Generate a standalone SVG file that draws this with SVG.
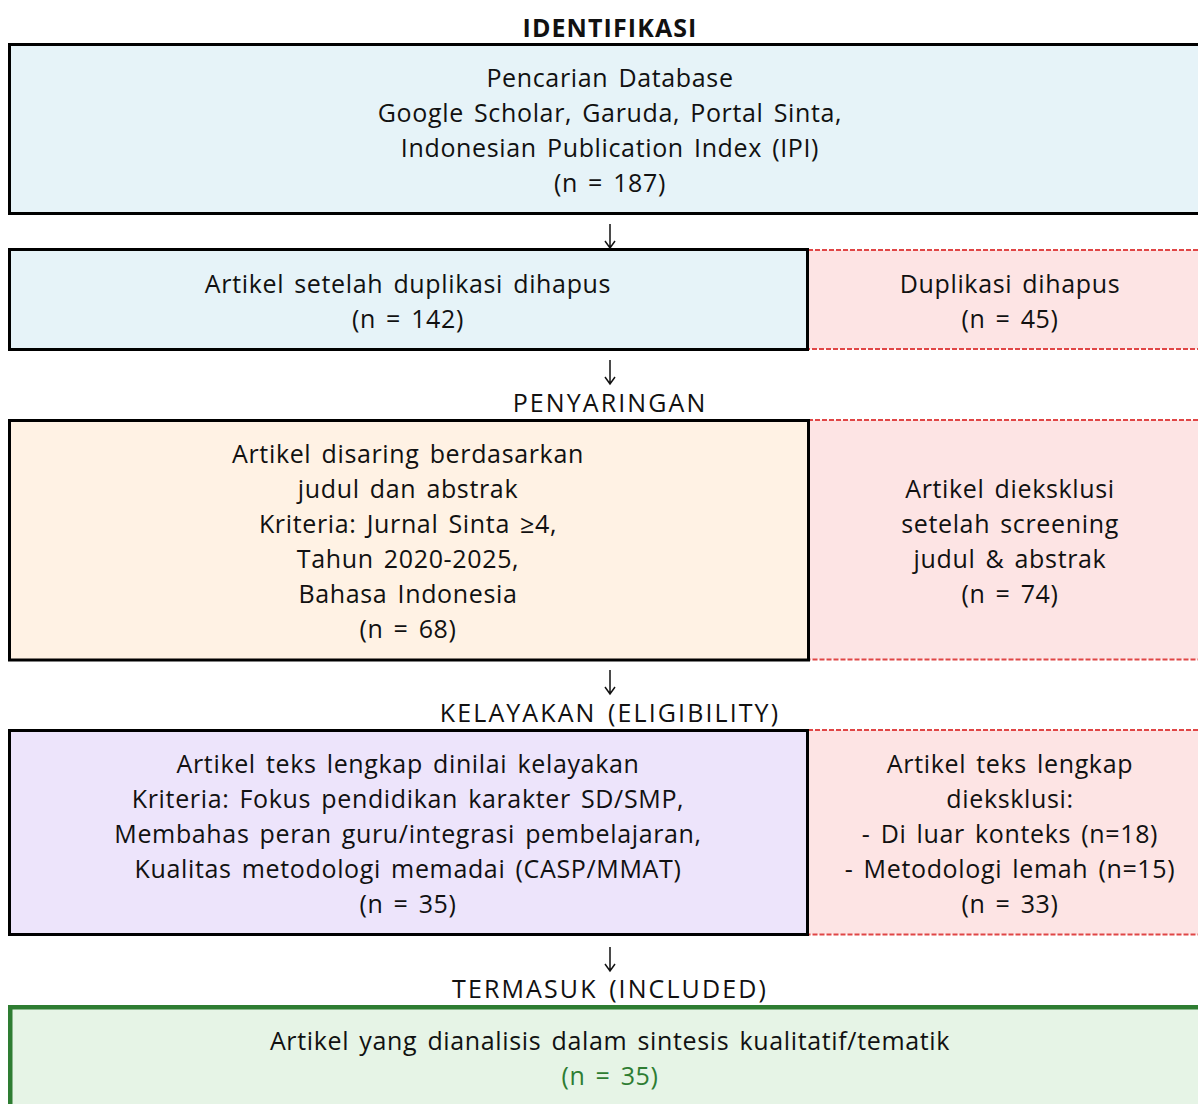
<svg xmlns="http://www.w3.org/2000/svg" width="1198" height="1104" viewBox="0 0 1198 1104">
<defs>
<style>
text{font-family:"Open Sans","Lato",sans-serif;font-size:25px;fill:#111;text-anchor:middle;letter-spacing:0.65px;word-spacing:3px}
.h{font-weight:bold;letter-spacing:1.1px}
.c{letter-spacing:2.1px}
.blue{fill:#e6f3f8;stroke:#000;stroke-width:3}
.orange{fill:#fff2e4;stroke:#000;stroke-width:3}
.purple{fill:#ede4fb;stroke:#000;stroke-width:3}
.pink{fill:#fde4e4;stroke:#e04646;stroke-width:2;stroke-dasharray:5 2}
.green{fill:#e6f4e6;stroke:#2e7d32;stroke-width:4.5}
.arr{fill:none;stroke:#111;stroke-width:1.5}
.gt{fill:#2e7d32}
</style>
</defs>
<rect width="1198" height="1104" fill="#fff"/>
<text class="h" x="610" y="37">IDENTIFIKASI</text>
<g id="search">
<rect class="blue" x="9.5" y="44.5" width="1210" height="169"/>
<text x="610" y="87">Pencarian Database</text>
<text x="610" y="122">Google Scholar, Garuda, Portal Sinta,</text>
<text x="610" y="157">Indonesian Publication Index (IPI)</text>
<text x="610" y="192">(n = 187)</text>
</g>
<g id="dedup-excluded">
<rect class="pink" x="808" y="250" width="410" height="99"/>
<text x="1010" y="293">Duplikasi dihapus</text>
<text x="1010" y="328">(n = 45)</text>
</g>
<g id="dedup">
<rect class="blue" x="9.5" y="249.5" width="798" height="100"/>
<text x="408" y="293">Artikel setelah duplikasi dihapus</text>
<text x="408" y="328">(n = 142)</text>
</g>
<text class="c" x="610" y="412">PENYARINGAN</text>
<g id="screen-excluded">
<rect class="pink" x="808" y="420" width="410" height="239.5"/>
<text x="1010" y="498">Artikel dieksklusi</text>
<text x="1010" y="533">setelah screening</text>
<text x="1010" y="568">judul &amp; abstrak</text>
<text x="1010" y="603">(n = 74)</text>
</g>
<g id="screen">
<rect class="orange" x="9.5" y="420.5" width="799" height="239.5"/>
<text x="408" y="463">Artikel disaring berdasarkan</text>
<text x="408" y="498">judul dan abstrak</text>
<text x="408" y="533">Kriteria: Jurnal Sinta ≥4,</text>
<text x="408" y="568">Tahun 2020-2025,</text>
<text x="408" y="603">Bahasa Indonesia</text>
<text x="408" y="638">(n = 68)</text>
</g>
<text class="c" x="610" y="722">KELAYAKAN (ELIGIBILITY)</text>
<g id="elig-excluded">
<rect class="pink" x="808" y="730" width="410" height="204.5"/>
<text x="1010" y="773">Artikel teks lengkap</text>
<text x="1010" y="808">dieksklusi:</text>
<text x="1010" y="843">- Di luar konteks (n=18)</text>
<text x="1010" y="878">- Metodologi lemah (n=15)</text>
<text x="1010" y="913">(n = 33)</text>
</g>
<g id="elig">
<rect class="purple" x="9.5" y="730.5" width="798" height="204"/>
<text x="408" y="773">Artikel teks lengkap dinilai kelayakan</text>
<text x="408" y="808">Kriteria: Fokus pendidikan karakter SD/SMP,</text>
<text x="408" y="843">Membahas peran guru/integrasi pembelajaran,</text>
<text x="408" y="878">Kualitas metodologi memadai (CASP/MMAT)</text>
<text x="408" y="913">(n = 35)</text>
</g>
<text class="c" x="610" y="998">TERMASUK (INCLUDED)</text>
<g id="included">
<rect class="green" x="10.25" y="1007.25" width="1210" height="120"/>
<text x="610" y="1050">Artikel yang dianalisis dalam sintesis kualitatif/tematik</text>
<text class="gt" x="610" y="1085">(n = 35)</text>
</g>
<g id="connectors">
<path class="arr" d="M610,224V248M605,241L610,248L615,241"/>
<path class="arr" d="M610,360V384M605,377L610,384L615,377"/>
<path class="arr" d="M610,670V694M605,687L610,694L615,687"/>
<path class="arr" d="M610,947V971M605,964L610,971L615,964"/>
</g>
</svg>
